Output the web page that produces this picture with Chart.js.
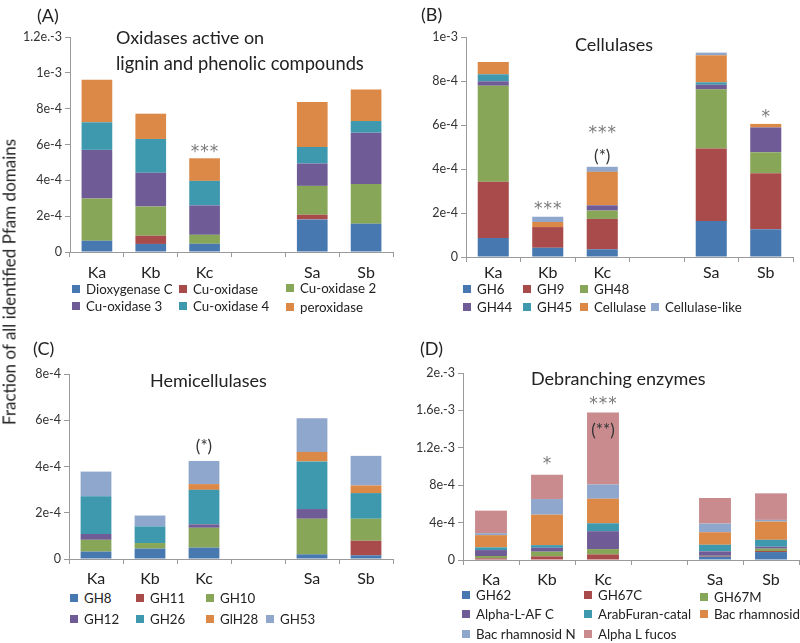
<!DOCTYPE html>
<html>
<head>
<meta charset="utf-8">
<script src="https://cdn.jsdelivr.net/npm/chart.js@4.4.1/dist/chart.umd.min.js"></script>
<style>
  html, body { margin: 0; padding: 0; background: #fff; }
  #wrap { position: relative; width: 800px; height: 643px; overflow: hidden; font-family: Lato, "Open Sans", sans-serif; color: #222; }
  canvas { position: absolute; }
  .txt { position: absolute; white-space: nowrap; line-height: 1; }
  .lg { position: absolute; white-space: nowrap; font-size: 13.3px; line-height: 1; color: #222; }
  .lg i { display: inline-block; width: 8px; height: 8px; margin-right: 6px; vertical-align: 1px; }
</style>
</head>
<body>
<div id="wrap">
  <canvas id="cA" width="400" height="290" style="left:0;top:0"></canvas>
  <canvas id="cB" width="400" height="290" style="left:400px;top:0"></canvas>
  <canvas id="cC" width="400" height="260" style="left:0;top:330px"></canvas>
  <canvas id="cD" width="400" height="260" style="left:400px;top:330px"></canvas>
</div>
<script>
// ---------------- DATA ----------------
const categories = ['Ka', 'Kb', 'Kc', '', 'Sa', 'Sb'];

// (A) Oxidases active on lignin and phenolic compounds
const oxNames = ['Dioxygenase C', 'Cu-oxidase', 'Cu-oxidase 2', 'Cu-oxidase 3', 'Cu-oxidase 4', 'peroxidase'];
const dioxygenaseC = [6.3e-5, 4.5e-5, 4.6e-5, null, 1.82e-4, 1.58e-4];
const cuOxidase    = [0,      4.6e-5, 0,      null, 2.6e-5,  0];
const cuOxidase2   = [2.36e-4, 1.63e-4, 5.0e-5, null, 1.61e-4, 2.22e-4];
const cuOxidase3   = [2.71e-4, 1.89e-4, 1.64e-4, null, 1.25e-4, 2.86e-4];
const cuOxidase4   = [1.54e-4, 1.88e-4, 1.37e-4, null, 9.2e-5, 6.5e-5];
const peroxidase   = [2.37e-4, 1.41e-4, 1.26e-4, null, 2.51e-4, 1.76e-4];

// (B) Cellulases
const celNames = ['GH6', 'GH9', 'GH48', 'GH44', 'GH45', 'Cellulase', 'Cellulase-like'];
const gh6  = [8.65e-5, 4.2e-5, 3.5e-5, null, 1.64e-4, 1.26e-4];
const gh9  = [2.56e-4, 9.4e-5, 1.38e-4, null, 3.29e-4, 2.55e-4];
const gh48 = [4.36e-4, 0, 3.8e-5, null, 2.69e-4, 9.5e-5];
const gh44 = [2.0e-5, 0, 2.4e-5, null, 2.1e-5, 1.13e-4];
const gh45 = [3.2e-5, 0, 0, null, 1.1e-5, 0];
const cellulase     = [5.6e-5, 2.3e-5, 1.52e-4, null, 1.23e-4, 1.6e-5];
const cellulaseLike = [0, 2.4e-5, 2.3e-5, null, 1.2e-5, 0];

// (C) Hemicellulases
const hemNames = ['GH8', 'GH11', 'GH10', 'GH12', 'GH26', 'GlH28', 'GH53'];
const gh8  = [3.2e-5, 4.5e-5, 4.9e-5, null, 2.0e-5, 1.6e-5];
const gh11 = [0, 0, 0, null, 0, 6.3e-5];
const gh10 = [5.1e-5, 2.4e-5, 8.6e-5, null, 1.54e-4, 9.5e-5];
const gh12 = [2.5e-5, 0, 1.5e-5, null, 4.2e-5, 0];
const gh26 = [1.63e-4, 7.2e-5, 1.49e-4, null, 2.06e-4, 1.11e-4];
const gh28 = [0, 0, 2.5e-5, null, 4.1e-5, 3.3e-5];
const gh53 = [1.07e-4, 4.7e-5, 1.0e-4, null, 1.46e-4, 1.28e-4];

// (D) Debranching enzymes
const debNames = ['GH62', 'GH67C', 'GH67M', 'Alpha-L-AF C', 'ArabFuran-catal', 'Bac rhamnosid', 'Bac rhamnosid N', 'Alpha L fucos'];
const gh62        = [5e-6, 0, 0, null, 3.5e-5, 8.5e-5];
const gh67c       = [1.3e-5, 3.9e-5, 6.0e-5, null, 7e-6, 1.1e-5];
const gh67m       = [2.5e-5, 5.0e-5, 5.7e-5, null, 3e-6, 2.5e-5];
const alphaLAFC   = [6.3e-5, 4.2e-5, 1.91e-4, null, 4.7e-5, 2.1e-5];
const arabFuran   = [2.9e-5, 2.8e-5, 8.5e-5, null, 7.1e-5, 7.4e-5];
const bacRham     = [1.31e-4, 3.26e-4, 2.62e-4, null, 1.34e-4, 1.95e-4];
const bacRhamN    = [2.1e-5, 1.67e-4, 1.53e-4, null, 9.3e-5, 1.8e-5];
const alphaLFucos = [2.41e-4, 2.60e-4, 7.70e-4, null, 2.73e-4, 2.84e-4];

// Tick values and labels
const ticksA = [0, 2e-4, 4e-4, 6e-4, 8e-4, 1e-3, 1.2e-3];
const tickLabelsA = ['0', '2e-4', '4e-4', '6e-4', '8e-4', '1e-3', '1.2e.-3'];
const ticksB = [0, 2e-4, 4e-4, 6e-4, 8e-4, 1e-3];
const tickLabelsB = ['0', '2e-4', '4e-4', '6e-4', '8e-4', '1e-3'];
const ticksC = [0, 2e-4, 4e-4, 6e-4, 8e-4];
const tickLabelsC = ['0', '2e-4', '4e-4', '6e-4', '8e-4'];
const ticksD = [0, 4e-4, 8e-4, 1.2e-3, 1.6e-3, 2e-3];
const tickLabelsD = ['0', '4e-4', '8e-4', '1.2e.-3', '1.6e.-3', '2e.-3'];

// Significance marks (text only)
const sigA = [{ cat: 'Kc', lines: ['***'] }];
const sigB = [{ cat: 'Kb', lines: ['***'] }, { cat: 'Kc', lines: ['***', '(*)'] }, { cat: 'Sb', lines: ['*'] }];
const sigC = [{ cat: 'Kc', lines: ['(*)'] }];
const sigD = [{ cat: 'Kb', lines: ['*'] }, { cat: 'Kc', lines: ['***', '(**)'] }];

// ---------------- STYLE ----------------
const COL = {
  blue: '#4878B0', red: '#A94B4B', green: '#87A658', purple: '#6F5B96',
  teal: '#3E98AE', orange: '#DC8846', lblue: '#8FA7CC', pink: '#C98B8E'
};
const FONT = 'Lato, "Open Sans", sans-serif';

// plugin: draws significance marks above stacks, positioned from scales
const sigPlugin = {
  id: 'sig',
  afterDatasetsDraw(chart, args, opts) {
    if (!opts || !opts.marks) return;
    const ctx = chart.ctx, xs = chart.scales.x, ys = chart.scales.y;
    ctx.save();
    ctx.textAlign = 'center';
    ctx.textBaseline = 'middle';
    opts.marks.forEach((m, mi) => {
      const idx = chart.data.labels.indexOf(m.cat);
      let total = 0;
      chart.data.datasets.forEach(ds => { const v = ds.data[idx]; if (v) total += v; });
      const x = xs.getPixelForValue(idx);
      const yTop = ys.getPixelForValue(total);
      m.lines.forEach((t, li) => {
        const dy = opts.offsets[mi][li];
        const paren = t.indexOf('(') >= 0;
        if (paren) {
          ctx.fillStyle = '#333';
          ctx.font = '17px ' + FONT;
          try { ctx.letterSpacing = '0px'; } catch (e) {}
          ctx.fillText(t, x, yTop + dy);
        } else {
          ctx.fillStyle = '#7a7a7a';
          ctx.font = '17px "DejaVu Sans", sans-serif';
          try { ctx.letterSpacing = '1px'; } catch (e) {}
          ctx.fillText(t, x + 0.5, yTop + dy + 4);
        }
      });
    });
    ctx.restore();
  }
};

function build(id, names, series, colors, ticks, tickLabels, max, geo, marks, offsets) {
  const datasets = names.map((n, i) => ({
    label: n, data: series[i], backgroundColor: colors[i],
    borderWidth: 0, barPercentage: 0.57, categoryPercentage: 1.0
  }));
  return new Chart(document.getElementById(id), {
    type: 'bar',
    data: { labels: categories, datasets },
    plugins: [sigPlugin],
    options: {
      responsive: false, animation: false, devicePixelRatio: 1,
      layout: { padding: { top: geo.top, right: geo.right, bottom: 0, left: 0 } },
      plugins: {
        legend: { display: false }, tooltip: { enabled: false }, title: { display: false },
        sig: { marks, offsets }
      },
      scales: {
        x: {
          stacked: true, offset: true,
          grid: { display: true, drawOnChartArea: false, drawTicks: true, tickLength: 5, color: '#9a9a9a', offset: true },
          border: { display: true, color: '#9a9a9a', width: 1 },
          ticks: { color: '#222', font: { family: FONT, size: 16 }, padding: geo.xpad, maxRotation: 0, autoSkip: false },
          afterFit(s) { s.height = geo.xh; }
        },
        y: {
          stacked: true, min: 0, max: max,
          afterBuildTicks(s) { s.ticks = ticks.map(v => ({ value: v })); },
          grid: { display: true, drawOnChartArea: false, drawTicks: true, tickLength: 5, color: '#9a9a9a' },
          border: { display: true, color: '#9a9a9a', width: 1 },
          ticks: { color: '#333', font: { family: FONT, size: 12.5 }, padding: 3,
                   callback: (v, i) => tickLabels[i] },
          afterFit(s) { s.width = geo.yw; }
        }
      }
    }
  });
}

build('cA', oxNames, [dioxygenaseC, cuOxidase, cuOxidase2, cuOxidase3, cuOxidase4, peroxidase],
  [COL.blue, COL.red, COL.green, COL.purple, COL.teal, COL.orange],
  ticksA, tickLabelsA, 1.2e-3, { top: 37, right: 7, xh: 38, yw: 70, xpad: 6 },
  sigA, [[-10]]);

build('cB', celNames, [gh6, gh9, gh48, gh44, gh45, cellulase, cellulaseLike],
  [COL.blue, COL.red, COL.green, COL.purple, COL.teal, COL.orange, COL.lblue],
  ticksB, tickLabelsB, 1e-3, { top: 37, right: 7, xh: 33, yw: 66, xpad: 1 },
  sigB, [[-11], [-37, -10], [-10]]);

build('cC', hemNames, [gh8, gh11, gh10, gh12, gh26, gh28, gh53],
  [COL.blue, COL.red, COL.green, COL.purple, COL.teal, COL.orange, COL.lblue],
  ticksC, tickLabelsC, 8e-4, { top: 44, right: 7, xh: 31, yw: 69, xpad: 5 },
  sigC, [[-14]]);

build('cD', debNames, [gh62, gh67c, gh67m, alphaLAFC, arabFuran, bacRham, bacRhamN, alphaLFucos],
  [COL.blue, COL.red, COL.green, COL.purple, COL.teal, COL.orange, COL.lblue, COL.pink],
  ticksD, tickLabelsD, 2e-3, { top: 43, right: 1, xh: 30, yw: 63, xpad: 5 },
  sigD, [[-14], [-12, 18]]);

// ---------------- TEXT OVERLAYS ----------------
const wrap = document.getElementById('wrap');
function addText(t, x, y, size, extra) {
  const d = document.createElement('div');
  d.className = 'txt';
  d.textContent = t;
  d.style.left = x + 'px'; d.style.top = y + 'px'; d.style.fontSize = size + 'px';
  if (extra) Object.assign(d.style, extra);
  wrap.appendChild(d);
  return d;
}
// panel labels
addText('(A)', 37, 6, 18);
addText('(B)', 421, 5, 18);
addText('(C)', 33, 339, 18);
addText('(D)', 420, 339, 18);
// titles
addText('Oxidases active on', 116, 28, 18);
addText('lignin and phenolic compounds', 116, 54, 18.3);
addText('Cellulases', 575, 35, 18);
addText('Hemicellulases', 150, 371, 18);
addText('Debranching enzymes', 531, 369, 18);
// y axis title
addText('Fraction of all identified Pfam domains', 9, 282, 17,
  { transform: 'translate(-50%, -50%) rotate(-90deg)', transformOrigin: 'center' });

// legends
function legend(names, colors, cols, rows) {
  names.forEach((n, i) => {
    const d = document.createElement('div');
    d.className = 'lg';
    d.innerHTML = '<i style="background:' + colors[i] + '"></i>';
    d.appendChild(document.createTextNode(n));
    d.style.left = cols[i] + 'px';
    d.style.top = rows[i] + 'px';
    wrap.appendChild(d);
  });
}
legend(oxNames, [COL.blue, COL.red, COL.green, COL.purple, COL.teal, COL.orange],
  [72, 179, 286, 72, 179, 286], [283, 283, 282, 300, 300, 301]);
legend(celNames, [COL.blue, COL.red, COL.green, COL.purple, COL.teal, COL.orange, COL.lblue],
  [463, 523, 580, 463, 523, 580, 651], [283, 283, 283, 301, 301, 301, 301]);
legend(hemNames, [COL.blue, COL.red, COL.green, COL.purple, COL.teal, COL.orange, COL.lblue],
  [70, 136, 206, 70, 136, 206, 266], [592, 592, 592, 613, 613, 613, 613]);
legend(debNames, [COL.blue, COL.red, COL.green, COL.purple, COL.teal, COL.orange, COL.lblue, COL.pink],
  [462, 584, 700, 462, 584, 700, 462, 584], [589, 589, 591, 608, 608, 608, 628, 628]);
</script>
</body>
</html>
